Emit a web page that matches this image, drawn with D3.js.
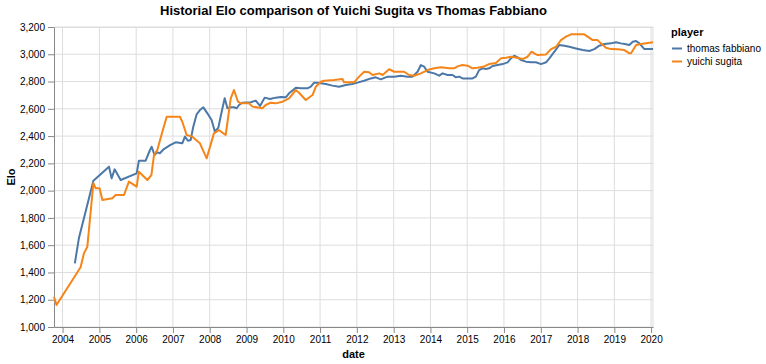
<!DOCTYPE html>
<html><head><meta charset="utf-8">
<script src="https://cdn.jsdelivr.net/npm/d3@7"></script>
<style>body{margin:0;background:#fff}svg{display:block;font-family:"Liberation Sans",Arial,sans-serif}</style>
</head><body><svg id="c" width="766" height="364"></svg>
<script>
const title = "Historial Elo comparison of Yuichi Sugita vs Thomas Fabbiano";
const players = ["thomas fabbiano", "yuichi sugita"];
const colors = ["#4c78a8", "#f58518"];
const yTicks = [1000,1200,1400,1600,1800,2000,2200,2400,2600,2800,3000,3200];

const fabbianoDates = ["2004-05-02","2004-06-11","2004-11-02","2005-04-06","2005-05-02","2005-06-01","2005-07-31","2006-01-06","2006-01-28","2006-04-05","2006-05-18","2006-06-04","2006-07-02","2006-07-30","2006-08-24","2006-10-03","2006-12-08","2007-01-28","2007-04-04","2007-04-30","2007-05-30","2007-06-26","2007-07-22","2007-08-24","2007-09-26","2007-10-30","2007-12-09","2008-01-20","2008-02-22","2008-03-27","2008-04-29","2008-05-29","2008-06-25","2008-08-04","2008-08-29","2008-09-25","2008-10-18","2008-11-21","2009-02-12","2009-04-02","2009-05-15","2009-06-30","2009-08-22","2009-10-18","2009-12-07","2010-01-26","2010-02-27","2010-05-05","2010-06-24","2010-08-29","2010-10-01","2010-11-03","2010-12-07","2011-01-08","2011-02-27","2011-05-04","2011-07-08","2011-09-13","2011-11-18","2012-01-07","2012-03-13","2012-05-19","2012-07-07","2012-08-26","2012-11-01","2013-01-06","2013-03-13","2013-05-19","2013-07-07","2013-08-26","2013-09-28","2013-10-31","2013-12-03","2014-02-08","2014-03-29","2014-05-02","2014-06-20","2014-08-09","2014-09-11","2014-10-13","2014-11-16","2015-02-23","2015-03-28","2015-04-29","2015-06-02","2015-07-05","2015-08-07","2015-09-10","2015-10-30","2015-12-19","2016-02-06","2016-03-10","2016-04-12","2016-05-16","2016-06-18","2016-08-07","2016-09-26","2016-11-14","2017-01-03","2017-02-22","2017-03-27","2017-05-16","2017-07-04","2017-08-22","2017-10-11","2017-12-16","2018-02-21","2018-04-28","2018-06-17","2018-08-05","2018-09-24","2018-11-29","2019-01-18","2019-03-08","2019-04-27","2019-05-30","2019-07-03","2019-08-05","2019-09-07","2019-10-26","2020-01-20"];
const fabbianoElo = [1467,1650,2073,2176,2090,2156,2078,2127,2220,2220,2298,2322,2261,2281,2274,2305,2335,2354,2347,2396,2366,2371,2469,2559,2591,2611,2567,2518,2432,2462,2579,2677,2604,2611,2611,2604,2628,2645,2648,2660,2621,2682,2672,2682,2687,2684,2714,2755,2750,2750,2762,2792,2792,2787,2782,2770,2762,2775,2782,2792,2806,2823,2831,2816,2836,2836,2843,2836,2836,2872,2921,2909,2872,2860,2843,2860,2848,2848,2831,2836,2823,2823,2836,2884,2897,2892,2897,2914,2921,2928,2941,2970,2989,2977,2958,2946,2941,2941,2928,2941,2970,3019,3068,3063,3055,3043,3031,3024,3038,3063,3075,3080,3088,3080,3073,3068,3092,3097,3080,3038,3038];

const sugitaDates = ["2003-10-08","2003-11-02","2004-06-28","2004-07-31","2004-09-03","2004-11-02","2004-11-25","2005-01-03","2005-01-30","2005-05-09","2005-06-11","2005-09-02","2005-10-21","2006-01-06","2006-01-28","2006-04-22","2006-06-01","2006-06-27","2006-07-30","2006-09-18","2006-10-31","2007-03-11","2007-04-04","2007-05-17","2007-07-12","2007-09-26","2007-12-02","2008-02-12","2008-04-02","2008-06-08","2008-07-28","2008-08-29","2008-10-08","2008-11-04","2009-01-26","2009-03-01","2009-06-08","2009-07-10","2009-08-29","2009-10-18","2009-12-24","2010-02-27","2010-05-05","2010-06-06","2010-08-12","2010-10-18","2010-11-20","2011-01-08","2011-02-10","2011-05-20","2011-08-12","2011-08-27","2011-12-05","2012-01-24","2012-03-14","2012-05-02","2012-06-05","2012-08-10","2012-09-13","2012-11-17","2013-01-06","2013-04-15","2013-06-04","2013-07-24","2013-09-28","2013-12-03","2014-02-08","2014-04-15","2014-07-06","2014-08-25","2014-09-27","2014-11-16","2015-01-05","2015-02-23","2015-04-14","2015-06-18","2015-08-07","2015-10-13","2015-12-02","2016-01-20","2016-03-10","2016-04-29","2016-07-04","2016-08-23","2016-10-02","2016-10-28","2016-12-01","2017-02-22","2017-04-13","2017-06-01","2017-07-20","2017-09-08","2017-10-28","2018-03-08","2018-04-11","2018-05-31","2018-07-19","2018-08-21","2018-10-10","2018-11-29","2019-02-04","2019-04-11","2019-05-30","2019-06-16","2019-08-05","2019-09-23","2020-01-20"];
const sugitaElo = [1222,1161,1438,1540,1589,2054,2017,2017,1931,1944,1968,1968,2066,2029,2139,2078,2114,2261,2298,2432,2542,2542,2505,2408,2396,2347,2237,2420,2444,2408,2677,2738,2652,2640,2640,2616,2604,2628,2645,2640,2652,2677,2738,2718,2665,2701,2762,2799,2806,2811,2819,2794,2794,2836,2872,2868,2848,2860,2848,2890,2872,2872,2848,2843,2860,2884,2897,2904,2897,2897,2911,2921,2916,2897,2901,2911,2928,2936,2970,2975,2982,2977,2965,2982,3019,3007,2994,2999,3038,3055,3104,3129,3146,3146,3129,3104,3104,3080,3048,3038,3036,3031,3007,3007,3068,3075,3088];

const parse = d3.timeParse("%Y-%m-%d");
const series = [
  {name: players[0], color: colors[0], pts: fabbianoDates.map((d,i)=>({date: parse(d), v: fabbianoElo[i]}))},
  {name: players[1], color: colors[1], pts: sugitaDates.map((d,i)=>({date: parse(d), v: sugitaElo[i]}))}
];

const m = {left: 54, top: 27, width: 599, height: 300};
const svg = d3.select("#c");
const g = svg.append("g").attr("transform", `translate(${m.left},${m.top})`);

const allDates = series.flatMap(s => s.pts.map(p => p.date));
const x = d3.scaleTime().domain(d3.extent(allDates)).range([0, m.width]);
const y = d3.scaleLinear().domain([1000, 3200]).range([m.height, 0]);

const xTicks = d3.range(2004, 2021).map(yr => new Date(yr, 0, 1));

// grid
g.append("g").selectAll("line").data(xTicks).join("line")
  .attr("x1", d => x(d)).attr("x2", d => x(d)).attr("y1", 0).attr("y2", m.height)
  .attr("stroke", "#ddd");
g.append("g").selectAll("line").data(yTicks).join("line")
  .attr("y1", d => y(d)).attr("y2", d => y(d)).attr("x1", 0).attr("x2", m.width)
  .attr("stroke", "#ddd");
g.append("rect").attr("x", 0.5).attr("y", 0.5).attr("width", m.width - 0.5).attr("height", m.height)
  .attr("fill", "none").attr("stroke", "#ddd");

// axes
const xAxis = g.append("g").attr("transform", `translate(0,${m.height})`)
  .call(d3.axisBottom(x).tickValues(xTicks).tickFormat(d3.timeFormat("%Y")).tickSizeOuter(0).tickPadding(3));
const yAxis = g.append("g")
  .call(d3.axisLeft(y).tickValues(yTicks).tickFormat(d3.format(",")).tickSizeOuter(0).tickPadding(3));
[xAxis, yAxis].forEach(a => {
  a.select(".domain").attr("stroke", "#888");
  a.selectAll(".tick line").attr("stroke", "#888");
  a.selectAll(".tick text").attr("fill", "#000").attr("font-size", 10)
    .attr("font-family", '"Liberation Sans",Arial,sans-serif');
});

// lines
const line = d3.line().x(d => x(d.date)).y(d => y(d.v));
g.append("g").selectAll("path").data(series).join("path")
  .attr("d", s => line(s.pts)).attr("fill", "none")
  .attr("stroke", s => s.color).attr("stroke-width", 2).attr("stroke-linejoin", "round");

// titles
svg.append("text").attr("x", m.left + m.width/2).attr("y", 15).attr("text-anchor", "middle")
  .attr("font-size", 13).attr("font-weight", "bold").text(title);
svg.append("text").attr("x", m.left + m.width/2).attr("y", 358).attr("text-anchor", "middle")
  .attr("font-size", 11).attr("font-weight", "bold").text("date");
svg.append("text").attr("transform", `translate(15,${m.top + m.height/2}) rotate(-90)`)
  .attr("text-anchor", "middle").attr("font-size", 11).attr("font-weight", "bold").text("Elo");

// legend
const lg = svg.append("g").attr("transform", "translate(671,0)");
lg.append("text").attr("x", 0).attr("y", 36).attr("font-size", 11).attr("font-weight", "bold").text("player");
const items = lg.selectAll("g.item").data(series).join("g").attr("class", "item")
  .attr("transform", (d,i) => `translate(0,${48.5 + i*13})`);
items.append("line").attr("x1", 1).attr("x2", 11).attr("y1", 0).attr("y2", 0)
  .attr("stroke", d => d.color).attr("stroke-width", 2);
items.append("text").attr("x", 16).attr("y", 3.5).attr("font-size", 10).text(d => d.name);
</script></body></html>
